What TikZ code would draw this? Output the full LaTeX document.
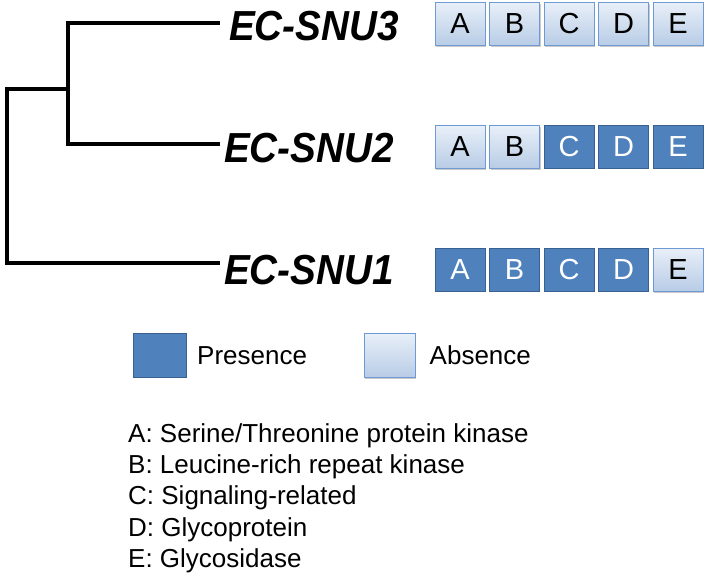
\documentclass[tikz,border=0pt]{standalone}
\usepackage{fontspec}
\setmainfont{Liberation Sans}
\usepackage{tikz}
\usetikzlibrary{positioning}
\usetikzlibrary{shadows}

\definecolor{presfill}{RGB}{79,129,189}
\definecolor{presline}{RGB}{56,96,145}
\definecolor{abstop}{RGB}{232,239,248}
\definecolor{absbot}{RGB}{184,204,230}
\definecolor{absline}{RGB}{110,153,210}

\newcommand{\taxname}[1]{\scalebox{0.92}[1]{#1}}

\tikzset{
	genebox/.style={
			minimum width=50pt,
			minimum height=43pt,
			inner sep=0pt,
			line width=1pt,
			font=\fontsize{29}{30}\selectfont
		},
	present/.style={genebox,
			draw=presline,
			fill=presfill,
			text=white
		},
	absent/.style={genebox,
			draw=absline,
			top color=abstop,
			bottom color=absbot,
			text=black,
			drop shadow={shadow xshift=1.2pt,shadow yshift=-1.8pt,opacity=0.35,fill=black!60}
		},
	taxon/.style={anchor=west,
			inner sep=0pt,
			font=\fontsize{42}{44}\selectfont\bfseries\itshape
		},
	branch/.style={line width=4.5pt},
	keytext/.style={anchor=base west,
			inner sep=0pt,
			font=\fontsize{26}{31}\selectfont
		}
}

\begin{document}
\begin{tikzpicture}[x=1pt,y=-1pt,node distance=3.5pt]
		\useasboundingbox (0,0) rectangle (706,576);

		% Taxa
		\node[taxon] (snu3) at (229,26) {\taxname{EC-SNU3}};
		\node[taxon] (snu2) at (224,148) {\taxname{EC-SNU2}};
		\node[taxon] (snu1) at (224,270) {\taxname{EC-SNU1}};

		% Tree
		\coordinate (tip3) at (220,23);
		\coordinate (tip2) at (220,144);
		\coordinate (tip1) at (220,263);
		\coordinate (inner) at (68,89);
		\coordinate (root) at (7,89);

		\draw[branch] (tip3) -| (inner) |- (tip2);
		\draw[branch] (inner) -- (root) |- (tip1);

		% EC-SNU3 genes
		\node[absent] (a3) at (460,24) {A};
		\node[absent, right=of a3] (b3) {B};
		\node[absent, right=of b3] (c3) {C};
		\node[absent, right=of c3] (d3) {D};
		\node[absent, right=of d3] (e3) {E};

		% EC-SNU2 genes
		\node[absent] (a2) at (460,147) {A};
		\node[absent, right=of a2] (b2) {B};
		\node[present, right=of b2] (c2) {C};
		\node[present, right=of c2] (d2) {D};
		\node[present, right=of d2] (e2) {E};

		% EC-SNU1 genes
		\node[present] (a1) at (460,269.5) {A};
		\node[present, right=of a1] (b1) {B};
		\node[present, right=of b1] (c1) {C};
		\node[present, right=of c1] (d1) {D};
		\node[absent, right=of d1] (e1) {E};

		% Legend
		\node[present,
			minimum width=53pt,
			minimum height=44pt
		] (pres) at (160,355.5) {};
		\node[keytext, anchor=west, right=10pt of pres] (prestext) {Presence};

		\node[absent,
			minimum width=51pt,
			minimum height=44pt
		] (abs) at (389.5,355.5) {};
		\node[keytext, anchor=west, right=14pt of abs] (abstext) {Absence};

		% Gene classes
		\node[keytext] (keya) at (128,442) {A: Serine/Threonine protein kinase};
		\node[keytext] (keyb) at (128,473) {B: Leucine-rich repeat kinase};
		\node[keytext] (keyc) at (128,504.5) {C: Signaling-related};
		\node[keytext] (keyd) at (128,536) {D: Glycoprotein};
		\node[keytext] (keye) at (128,567) {E: Glycosidase};
	\end{tikzpicture}
\end{document}
